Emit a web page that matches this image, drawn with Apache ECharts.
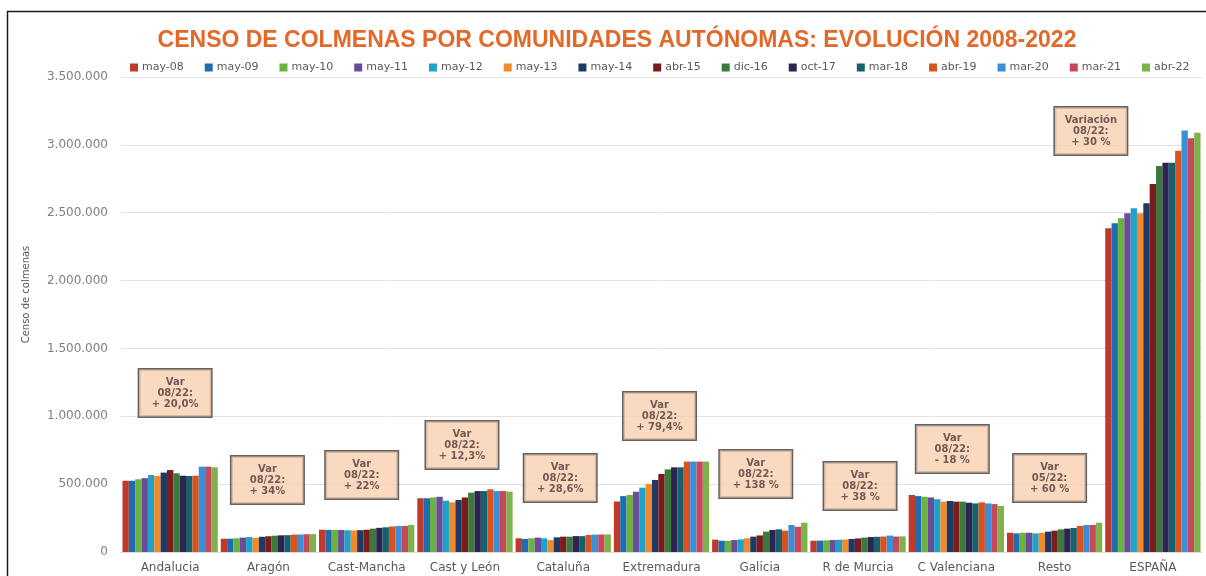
<!DOCTYPE html>
<html>
<head>
<meta charset="utf-8">
<script src="https://cdn.jsdelivr.net/npm/echarts@6/dist/echarts.min.js"></script>
<style>
html,body{margin:0;padding:0;background:#fff;}
#chart{width:1206px;height:576px;}
</style>
</head>
<body>
<div id="chart"></div>
<script>
const categories = ['Andalucia','Aragón','Cast-Mancha','Cast y León','Cataluña','Extremadura','Galicia','R de Murcia','C Valenciana','Resto','ESPAÑA'];
const seriesNames = ['may-08','may-09','may-10','may-11','may-12','may-13','may-14','abr-15','dic-16','oct-17','mar-18','abr-19','mar-20','mar-21','abr-22'];

const may08 = [525000, 98000,164000,396000,101000,372000, 91000, 83000,420000,142000,2385000];
const may09 = [525000, 98000,163000,396000, 96000,412000, 83000, 84000,412000,137000,2422000];
const may10 = [536000,101000,163000,402000,101000,420000, 83000, 86000,407000,142000,2459000];
const may11 = [544000,106000,162000,407000,106000,444000, 88000, 88000,402000,142000,2496000];
const may12 = [567000,110000,160000,378000,101000,474000, 93000, 90000,389000,137000,2533000];
const may13 = [560000,104000,159000,366000, 88000,501000,101000, 92000,371000,142000,2496000];
const may14 = [585000,112000,161000,383000,108000,531000,113000, 96000,376000,150000,2570000];
const abr15 = [604000,116000,164000,402000,113000,575000,122000,100000,371000,157000,2712000];
const dic16 = [580000,120000,172000,437000,113000,609000,150000,106000,371000,167000,2844000];
const oct17 = [562000,123000,178000,449000,117000,624000,162000,110000,363000,172000,2869000];
const mar18 = [560000,124000,182000,449000,117000,624000,167000,112000,358000,177000,2869000];
const abr19 = [562000,128000,188000,462000,125000,666000,157000,114000,366000,192000,2957000];
const mar20 = [629000,129000,192000,449000,128000,666000,199000,121000,358000,199000,3105000];
const mar21 = [629000,131000,192000,449000,129000,666000,186000,114000,353000,199000,3049000];
const abr22 = [624000,132000,200000,445000,130000,666000,216000,115000,339000,216000,3090000];

const yTicks = [0, 500000, 1000000, 1500000, 2000000, 2500000, 3000000, 3500000];

const annText = [
  'Var\n08/22:\n+ 20,0%',
  'Var\n08/22:\n+ 34%',
  'Var\n08/22:\n+ 22%',
  'Var\n08/22:\n+ 12,3%',
  'Var\n08/22:\n+ 28,6%',
  'Var\n08/22:\n+ 79,4%',
  'Var\n08/22:\n+ 138 %',
  'Var\n08/22:\n+ 38 %',
  'Var\n08/22:\n- 18 %',
  'Var\n05/22:\n+ 60 %',
  'Variación\n08/22:\n+ 30 %'
];
// vertical anchor (in axis units) of each annotation box
const annY = [1172000, 531000, 567000, 789000, 545000, 1002000, 575000, 486000, 759000, 545000, 3102000];
// horizontal pixel shift of each box from its category centre (layout only)
const annDx = [5, -1, -5, -3, -3, -2, -4, 2, -4, -5, -62];

const allValues = [may08,may09,may10,may11,may12,may13,may14,abr15,dic16,oct17,mar18,abr19,mar20,mar21,abr22];
const colors = ['#C0392B','#1F6DB0','#6BB33E','#6B4C9A','#1FA2C8','#F08A2C','#1F3864','#7B1C1C','#3C7A3C','#2E2352','#17606E','#D9531E','#3B8FD9','#C9475A','#7FB24C'];

function fmt(v){ return String(v).replace(/\B(?=(\d{3})+(?!\d))/g, '.'); }

const barSeries = seriesNames.map((n, i) => ({
  name: n,
  type: 'bar',
  data: allValues[i],
  barGap: '0%',
  barCategoryGap: '3%',
  itemStyle: { color: colors[i] },
  emphasis: { disabled: true }
}));

const annSeries = {
  type: 'scatter',
  symbolSize: 1,
  itemStyle: { color: 'rgba(0,0,0,0)' },
  z: 10,
  silent: true,
  data: categories.map((c, i) => ({
    value: [c, annY[i]],
    label: { formatter: annText[i], offset: [annDx[i], 0] }
  })),
  label: {
    show: true,
    position: 'inside',
    backgroundColor: '#F9CFB2',
    borderColor: '#3C3C3C',
    borderWidth: 1.5,
    padding: [4, 4, 10, 4],
    width: 64,
    align: 'center',
    fontFamily: 'DejaVu Sans',
    fontSize: 10,
    fontWeight: 'bold',
    lineHeight: 11,
    color: '#4E3838'
  }
};

const chart = echarts.init(document.getElementById('chart'), null, { renderer: 'canvas' });
chart.setOption({
  animation: false,
  backgroundColor: '#ffffff',
  color: colors,
  title: {
    text: 'CENSO DE COLMENAS POR COMUNIDADES AUTÓNOMAS: EVOLUCIÓN 2008-2022',
    left: 612,
    top: 24,
    textAlign: 'center',
    textStyle: {
      fontFamily: 'Liberation Sans',
      fontSize: 23,
      fontWeight: 'bold',
      color: '#E2692A'
    }
  },
  legend: {
    data: seriesNames,
    left: 130,
    top: 62,
    width: 1090,
    padding: 0,
    itemWidth: 8,
    itemHeight: 8,
    itemGap: 21,
    icon: 'rect',
    textStyle: { fontFamily: 'DejaVu Sans', fontSize: 11, color: '#595959', padding: [0,0,0,-1] }
  },
  grid: { left: 121, right: 4, top: 77, bottom: 24, containLabel: false },
  xAxis: {
    type: 'category',
    data: categories,
    axisTick: { show: false },
    axisLine: { show: true, lineStyle: { color: '#D9D9D9' } },
    axisLabel: { interval: 0, fontFamily: 'DejaVu Sans', fontSize: 12, color: '#595959', margin: 10 }
  },
  yAxis: {
    type: 'value',
    min: yTicks[0],
    max: yTicks[yTicks.length - 1],
    interval: yTicks[1] - yTicks[0],
    name: 'Censo de colmenas',
    nameLocation: 'middle',
    nameGap: 90,
    nameTextStyle: { fontFamily: 'DejaVu Sans', fontSize: 10, color: '#595959', padding: [0, 0, 0, 40] },
    axisLine: { show: false },
    axisTick: { show: false },
    axisLabel: { fontFamily: 'DejaVu Sans', fontSize: 12, color: '#7F7F7F', margin: 13, formatter: fmt },
    splitLine: { lineStyle: { color: '#E3E3E3', width: 1 } }
  },
  graphic: [{
    type: 'polyline',
    shape: { points: [[7.5, 576], [7.5, 11.5], [1206, 11.5]] },
    style: { stroke: '#1A1A1A', lineWidth: 1.5, fill: null },
    silent: true
  }],
  series: barSeries.concat([annSeries])
});
</script>
</body>
</html>
